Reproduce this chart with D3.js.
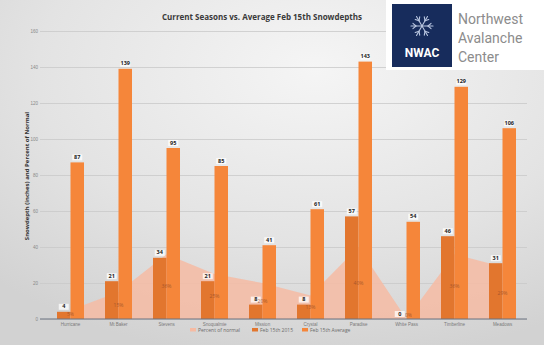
<!DOCTYPE html>
<html>
<head>
<meta charset="utf-8">
<script src="https://cdn.jsdelivr.net/npm/d3@7/dist/d3.min.js"></script>
<style>
  html, body { margin: 0; padding: 0; background: #e4e4e4; }
  svg { display: block; font-family: "Open Sans", "Liberation Sans", sans-serif; }
</style>
</head>
<body>
<svg id="chart" width="544" height="345"></svg>
<script>
// Feb 15th snow depth (inches) per station
const stations = ["Hurricane", "Mt Baker", "Stevens", "Snoqualmie", "Mission", "Crystal", "Paradise", "White Pass", "Timberline", "Meadows"];
const current2015 = [4, 21, 34, 21, 8, 8, 57, 0, 46, 31];
const febAverage = [87, 139, 95, 85, 41, 61, 143, 54, 129, 106];
const percentOfNormal = [5, 15, 36, 25, 20, 13, 40, 0, 36, 29];
const yTicks = [0, 20, 40, 60, 80, 100, 120, 140, 160];
const legendLabels = ["Percent of normal", "Feb 15th 2015", "Feb 15th Average"];

const colors = { current: "#e2762e", average: "#f5863a", pct: "#f6bba3" };

const svg = d3.select("#chart");
const W = 544, H = 345;

// background wash
const defs = svg.append("defs");
const bg = defs.append("radialGradient").attr("id", "bg")
  .attr("cx", "0.58").attr("cy", "0.2").attr("r", "0.85");
bg.append("stop").attr("offset", "0%").attr("stop-color", "#f5f5f5");
bg.append("stop").attr("offset", "60%").attr("stop-color", "#e3e3e3");
bg.append("stop").attr("offset", "100%").attr("stop-color", "#d2d2d2");
svg.append("rect").attr("width", W).attr("height", H).attr("fill", "url(#bg)");

const x = d3.scaleBand().domain(stations).range([46.5, 526.5]).padding(0);
const xs = d3.scaleBand().domain(["current", "average"]).range([10.5, 37.5]).padding(0);
const y = d3.scaleLinear().domain([0, 160]).range([319, 31]);
const cx = d => x(d) + x.bandwidth() / 2;

// gridlines + tick labels
const yAxis = d3.axisLeft(y).tickValues(yTicks).tickSize(-(527 - 40)).tickFormat(d3.format("d"));
const ga = svg.append("g").attr("transform", "translate(40,0)").call(yAxis);
ga.select(".domain").remove();
ga.selectAll(".tick line").attr("stroke", "#c9c9c9").attr("stroke-width", 0.8);
ga.selectAll(".tick text").attr("fill", "#8a8a8a").attr("font-size", 4.5).attr("x", -2);

// percent-of-normal area
const area = d3.area()
  .x((d, i) => cx(stations[i]))
  .y0(y(0))
  .y1(d => y(d));
svg.append("path").datum(percentOfNormal)
  .attr("d", area)
  .attr("fill", colors.pct)
  .attr("opacity", 0.85);

// bars
const groups = svg.append("g").selectAll("g").data(stations).join("g")
  .attr("transform", d => `translate(${x(d)},0)`);

groups.append("rect")
  .attr("x", xs("current")).attr("width", xs.bandwidth())
  .attr("y", (d, i) => y(current2015[i]))
  .attr("height", (d, i) => y(0) - y(current2015[i]))
  .attr("fill", colors.current);

groups.append("rect")
  .attr("x", xs("average")).attr("width", xs.bandwidth())
  .attr("y", (d, i) => y(febAverage[i]))
  .attr("height", (d, i) => y(0) - y(febAverage[i]))
  .attr("fill", colors.average);

// percent labels, centred in the area
svg.append("g").selectAll("text").data(percentOfNormal).join("text")
  .attr("x", (d, i) => cx(stations[i]) + (d === 0 ? 2 : 0))
  .attr("y", d => y(d / 2) + 1.8 - (d === 0 ? 4 : 0))
  .attr("text-anchor", "middle")
  .attr("font-size", 5)
  .attr("fill", "#a0522a")
  .attr("opacity", 0.85)
  .text(d => d + "%");

// value labels with a light backing
function valueLabel(g, key, values) {
  const lab = g.append("g")
    .attr("transform", (d, i) => `translate(${xs(key) + xs.bandwidth() / 2},${y(values[i]) - 4})`);
  lab.append("rect")
    .attr("x", -5).attr("y", -4).attr("width", 10).attr("height", 6)
    .attr("fill", "#ffffff").attr("opacity", 0.75);
  lab.append("text")
    .attr("text-anchor", "middle").attr("y", 0.5)
    .attr("font-size", 5.5).attr("font-weight", "bold").attr("fill", "#222")
    .text((d, i) => values[i]);
}
valueLabel(groups, "current", current2015);
valueLabel(groups, "average", febAverage);

// baseline
svg.append("line")
  .attr("x1", 40).attr("x2", 527).attr("y1", y(0)).attr("y2", y(0))
  .attr("stroke", "#6b7280").attr("stroke-width", 1);

// category labels
const xAxis = d3.axisBottom(x).tickSize(0).tickPadding(4);
const gx = svg.append("g").attr("transform", `translate(0,${y(0)})`).call(xAxis);
gx.select(".domain").remove();
gx.selectAll("text").attr("font-size", 4.5).attr("fill", "#7a7a7a");

// y-axis title
svg.append("text")
  .attr("transform", "translate(29,176) rotate(-90)")
  .attr("text-anchor", "middle")
  .attr("font-size", 6).attr("font-weight", "bold").attr("fill", "#333")
  .text("Snowdepth (inches)  and Percent of Normal");

// title
svg.append("text")
  .attr("x", 262).attr("y", 20)
  .attr("text-anchor", "middle")
  .attr("font-size", 8).attr("font-weight", "bold").attr("fill", "#3a3a3a")
  .text("Current Seasons vs. Average Feb 15th Snowdepths");

// legend
const legendColors = [colors.pct, colors.current, colors.average];
const legendX = [190, 252, 302];
const lg = svg.append("g").selectAll("g").data(legendLabels).join("g")
  .attr("transform", (d, i) => `translate(${legendX[i]},331)`);
lg.append("rect").attr("x", 0).attr("y", -3).attr("width", 6).attr("height", 3.5)
  .attr("fill", (d, i) => legendColors[i]);
lg.append("text").attr("x", 8).attr("y", 0.5)
  .attr("font-size", 5).attr("fill", "#6a6a6a").text(d => d);

// NWAC logo block
const logo = svg.append("g");
logo.append("rect").attr("x", 386).attr("y", 0).attr("width", 158).attr("height", 70).attr("fill", "#ffffff");
logo.append("rect").attr("x", 392).attr("y", 4).attr("width", 60).attr("height", 63).attr("fill", "#172c5c");
// snowflake mark
const flake = logo.append("g").attr("transform", "translate(422,26)")
  .attr("stroke", "#b9c6e0").attr("stroke-width", 1.1).attr("stroke-linecap", "round");
d3.range(6).forEach(k => {
  const a = k * Math.PI / 3;
  flake.append("line").attr("x1", 0).attr("y1", 0)
    .attr("x2", 11 * Math.cos(a)).attr("y2", 11 * Math.sin(a));
  const bx = 6 * Math.cos(a), by = 6 * Math.sin(a);
  [-0.7, 0.7].forEach(o => {
    flake.append("line").attr("x1", bx).attr("y1", by)
      .attr("x2", bx + 4 * Math.cos(a + o)).attr("y2", by + 4 * Math.sin(a + o));
  });
});
logo.append("text").attr("x", 422).attr("y", 57).attr("text-anchor", "middle")
  .attr("font-size", 12).attr("font-weight", "bold").attr("fill", "#ffffff")
  .attr("font-family", "Roboto, 'Liberation Sans', sans-serif")
  .text("NWAC");
const logoLines = ["Northwest", "Avalanche", "Center"];
logo.append("g").selectAll("text").data(logoLines).join("text")
  .attr("x", 458).attr("y", (d, i) => 24 + i * 19)
  .attr("font-size", 14).attr("fill", "#8c8c8c")
  .attr("font-family", "Roboto, 'Liberation Sans', sans-serif")
  .text(d => d);
</script>
</body>
</html>
